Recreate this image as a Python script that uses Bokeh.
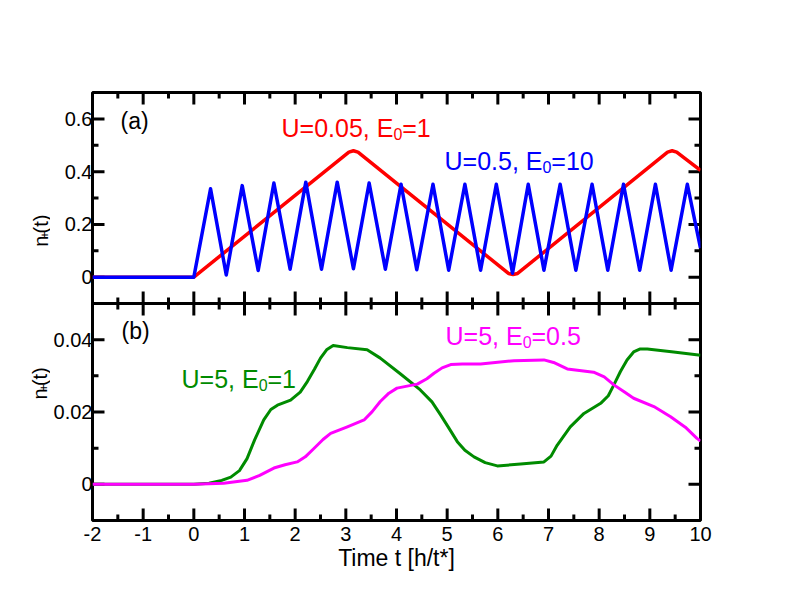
import math
from bokeh.plotting import figure
from bokeh.models import Range1d, FixedTicker, NumeralTickFormatter, Label, Span
from bokeh.layouts import row
from bokeh.core.properties import value
from bokeh.embed import file_html
from bokeh.resources import INLINE

FONT = "Liberation Sans"

# ---------------- data ----------------
# panel (a)
t_red = [-2, 0, 3.06, 3.15, 3.24, 6.21, 6.30, 6.39, 9.35, 9.44, 9.53, 10]
n_red = [0, 0, 0.474, 0.479, 0.474, 0.014, 0.010, 0.014, 0.474, 0.479, 0.474, 0.405]

t_blue = [-2, 0, 0.33, 0.64, 0.955, 1.27, 1.58, 1.90, 2.21, 2.52, 2.83, 3.15,
          3.46, 3.78, 4.09, 4.40, 4.72, 5.03, 5.35, 5.66, 5.97, 6.29, 6.60,
          6.91, 7.23, 7.54, 7.86, 8.17, 8.48, 8.80, 9.11, 9.42, 9.74, 10]
n_blue = [0, 0, 0.335, 0.008, 0.347, 0.025, 0.357, 0.030, 0.360, 0.030, 0.360, 0.032,
          0.357, 0.030, 0.352, 0.028, 0.352, 0.026, 0.352, 0.026, 0.352, 0.015, 0.352,
          0.026, 0.352, 0.026, 0.352, 0.026, 0.352, 0.026, 0.352, 0.026, 0.352, 0.11]

# panel (b)
t_green = [-2, 0, 0.3, 0.55, 0.73, 0.9, 1.05, 1.2, 1.38, 1.52, 1.65, 1.91, 2.1,
           2.24, 2.38, 2.5, 2.62, 2.75, 3.03, 3.42, 3.68, 4.08, 4.47, 4.7, 4.87,
           5.05, 5.2, 5.35, 5.53, 5.75, 5.99, 6.45, 6.91, 7.05, 7.17, 7.43, 7.7,
           8.03, 8.18, 8.29, 8.42, 8.55, 8.68, 8.8, 8.95, 9.47, 10]
n_green = [0, 0, 0.0003, 0.0011, 0.002, 0.0038, 0.0071, 0.0123, 0.0178, 0.0207,
           0.0219, 0.0233, 0.0255, 0.0284, 0.0318, 0.0349, 0.0372, 0.0384, 0.0378,
           0.0372, 0.0349, 0.0305, 0.0261, 0.0228, 0.0192, 0.0152, 0.0118, 0.0094,
           0.0076, 0.0060, 0.0051, 0.0056, 0.0062, 0.0078, 0.0108, 0.0159, 0.0196,
           0.0224, 0.0245, 0.0275, 0.0312, 0.0344, 0.0366, 0.0374, 0.0374, 0.0366,
           0.0357]

t_mag = [-2, 0, 0.59, 1.05, 1.3, 1.58, 1.8, 2.04, 2.2, 2.37, 2.55, 2.7, 3.03,
         3.36, 3.52, 3.68, 3.85, 4.01, 4.41, 4.6, 4.74, 4.9, 5.07, 5.3, 5.66,
         6.32, 6.91, 7.1, 7.37, 7.89, 8.1, 8.29, 8.5, 8.68, 9.08, 9.41, 9.7,
         9.93, 10]
n_mag = [0, 0, 0.0003, 0.0011, 0.0025, 0.0045, 0.0054, 0.0062, 0.0076, 0.0099,
         0.0124, 0.0141, 0.0159, 0.0178, 0.0201, 0.0229, 0.0252, 0.0266, 0.0277,
         0.0292, 0.0307, 0.0322, 0.0331, 0.0333, 0.0333, 0.0342, 0.0344, 0.0337,
         0.0319, 0.0310, 0.0297, 0.0275, 0.0255, 0.0238, 0.0215, 0.0187, 0.0158,
         0.0127, 0.0120]

X_RANGE = (-2, 10)
Y_RANGE_A = (-0.1, 0.7)     # panel (a)
Y_RANGE_B = (-0.01, 0.05)   # panel (b)
X_LABEL = "Time t [h/t*]"

# tick positions / labels
x_major = list(range(-2, 11))
x_minor = [k + 0.5 for k in range(-2, 10)]
ya_major = [0, 0.2, 0.4, 0.6]
ya_labels = ["0", "0.2", "0.4", "0.6"]
ya_minor = [0.1, 0.3, 0.5]
yb_major = [0, 0.02, 0.04]
yb_minor = [0.01, 0.03]

# ---------------- geometry (page pixels) ----------------
FL, FR = 92.0, 700.0
A_T, MID, B_B = 92.0, 303.0, 520.0
H_A, H_B = MID - A_T, B_B - MID
FH = B_B - A_T
BOTTOM = 80
TOTAL_H = int(A_T + FH + BOTTOM)
LBL_W = 50
MAJ, MIN = 12, 6  # tick lengths, px
TICK_W = 3

# main y range = panel (b) extended upward; panel (a) uses an extra range
# extended downward, so each panel occupies its own band of the frame
B0 = Y_RANGE_B[0]
B1 = B0 + (Y_RANGE_B[1] - Y_RANGE_B[0]) * FH / H_B
T1 = Y_RANGE_A[1]
T0 = T1 - (Y_RANGE_A[1] - Y_RANGE_A[0]) * FH / H_A


def tx(px):
    return X_RANGE[0] + (px - FL) * (X_RANGE[1] - X_RANGE[0]) / (FR - FL)


def ty(py):
    return B0 + (B_B - py) * (B1 - B0) / FH


def top_to_main(v):
    return B0 + (v - T0) * (B1 - B0) / (T1 - T0)


ADV = {"U": 722, "=": 584, "0": 556, "1": 556, "2": 556, "5": 556, ".": 278,
       ",": 278, " ": 278, "E": 667, "n": 556, "(": 333, ")": 333, "t": 278,
       "+": 584}


def width(s, size):
    return sum(ADV.get(c, 556) for c in s) / 1000.0 * size


p = figure(x_range=Range1d(*X_RANGE), y_range=Range1d(B0, B1),
           frame_width=int(FR - FL), frame_height=int(FH),
           min_border_left=int(FL - LBL_W), min_border_right=84,
           min_border_top=int(A_T), min_border_bottom=BOTTOM,
           output_backend="svg", toolbar_location=None)
p.extra_y_ranges = {"top": Range1d(T0, T1)}
p.xgrid.visible = False
p.ygrid.visible = False
p.outline_line_color = "black"
p.outline_line_width = 3


def lab(x, y, text, size, color):
    p.add_layout(Label(x=x, y=y, text=text, text_font=FONT,
                       text_font_size=f"{size}px", text_color=color,
                       text_align="left", text_baseline="alphabetic"))


def sub_text(px, py, pre, sub, post, color, size=25, ssize=16, drop=6):
    lab(tx(px), ty(py), pre, size, color)
    x2 = px + width(pre, size)
    lab(tx(x2), ty(py + drop), sub, ssize, color)
    x3 = x2 + width(sub, ssize)
    lab(tx(x3), ty(py), post, size, color)


def add_ticks(yr, hpx, ymaj, ymin, range_name):
    """Inward ticks on the four sides of one panel, traced as one comb line
    running round the panel's border."""
    lo, hi = yr
    x0, x1 = X_RANGE
    dxp = (x1 - x0) / (FR - FL)
    dyp = (hi - lo) / hpx
    tx_ = sorted([(v, MAJ) for v in x_major] + [(v, MIN) for v in x_minor])
    ty_ = sorted([(v, MAJ) for v in ymaj] + [(v, MIN) for v in ymin])
    xs, ys = [x0], [lo]
    for v, L in tx_:                      # bottom edge, left -> right
        xs += [v, v, v]
        ys += [lo, lo + L * dyp, lo]
    xs.append(x1)
    ys.append(lo)
    for v, L in ty_:                      # right edge, bottom -> top
        xs += [x1, x1 - L * dxp, x1]
        ys += [v, v, v]
    xs.append(x1)
    ys.append(hi)
    for v, L in reversed(tx_):            # top edge, right -> left
        xs += [v, v, v]
        ys += [hi, hi - L * dyp, hi]
    xs.append(x0)
    ys.append(hi)
    for v, L in reversed(ty_):            # left edge, top -> bottom
        xs += [x0, x0 + L * dxp, x0]
        ys += [v, v, v]
    xs.append(x0)
    ys.append(lo)
    kw = {} if range_name is None else {"y_range_name": range_name}
    p.line(xs, ys, line_color="black", line_width=TICK_W, line_join="bevel", **kw)


add_ticks(Y_RANGE_A, H_A, ya_major, ya_minor, "top")
add_ticks(Y_RANGE_B, H_B, yb_major, yb_minor, None)

# panel divider
p.add_layout(Span(location=Y_RANGE_B[1], dimension="width",
                  line_color="black", line_width=3))

# curves
p.line(t_red, n_red, line_color="#ff0000", line_width=3.5, line_join="round",
       y_range_name="top")
p.line(t_blue, n_blue, line_color="#0000ff", line_width=3.5, line_join="round",
       y_range_name="top")
p.line(t_green, n_green, line_color="#008b00", line_width=3, line_join="round")
p.line(t_mag, n_mag, line_color="#ff00ff", line_width=3, line_join="round")

# axes: the left one carries the tick labels of both panels
pos_a = [top_to_main(v) for v in ya_major]
overrides = {}
for v, s in zip(pos_a, ya_labels):
    overrides[v] = s
    overrides[repr(v)] = s
yax = p.yaxis[0]
yax.ticker = FixedTicker(ticks=yb_major + pos_a)
yax.formatter = NumeralTickFormatter(format="0.[00]")
yax.major_label_overrides = overrides
xax = p.xaxis[0]
xax.ticker = FixedTicker(ticks=x_major)
xax.formatter = NumeralTickFormatter(format="0")
xax.axis_label = X_LABEL
for ax in (xax, yax):
    ax.axis_line_color = None
    ax.major_tick_in = 0
    ax.major_tick_out = 0
    ax.minor_tick_in = 0
    ax.minor_tick_out = 0
    ax.major_tick_line_color = None
    ax.minor_tick_line_color = None
    ax.major_label_text_font = FONT
    ax.major_label_text_font_size = "20px"
    ax.major_label_text_color = "black"
    ax.axis_label_text_font = FONT
    ax.axis_label_text_font_style = "normal"
    ax.axis_label_text_color = "black"
yax.major_label_standoff = 0
xax.major_label_standoff = 6
xax.axis_label_text_font_size = "23px"
xax.axis_label_standoff = 1

# panel texts
lab(tx(120), ty(120), "(a)", 23, "black")
sub_text(281, 127, "U=0.05, E", "0", "=1", "#ff0000")
sub_text(444, 160.5, "U=0.5, E", "0", "=10", "#0000ff")
lab(tx(121), ty(330), "(b)", 23, "black")
sub_text(181, 378, "U=5, E", "0", "=1", "#008b00")
sub_text(445, 335.5, "U=5, E", "0", "=0.5", "#ff00ff")

# ---------------- y titles n_+(t) in a narrow strip on the left ----------------
pl = figure(width=LBL_W, height=TOTAL_H, x_range=Range1d(0, LBL_W),
            y_range=Range1d(0, TOTAL_H), min_border=0,
            output_backend="svg", toolbar_location=None,
            x_axis_location=None, y_axis_location=None)
pl.xgrid.visible = False
pl.ygrid.visible = False
pl.outline_line_color = None


def ylabel(bx, cy, size=20, ssize=13, drop=4):
    total = width("n", size) + width("+", ssize) + width("(t)", size)
    y0 = cy + total / 2
    y1 = y0 - width("n", size)
    y2 = y1 - width("+", ssize)
    common = dict(angle=math.pi / 2, text_font=value(FONT), text_color="black",
                  text_align="left", text_baseline="alphabetic")
    pl.text(x=[bx], y=[TOTAL_H - y0], text=["n"],
            text_font_size=value(f"{size}px"), **common)
    pl.text(x=[bx + drop], y=[TOTAL_H - y1], text=["+"],
            text_font_size=value(f"{ssize}px"), **common)
    pl.text(x=[bx], y=[TOTAL_H - y2], text=["(t)"],
            text_font_size=value(f"{size}px"), **common)


ylabel(40, (A_T + MID) / 2)
ylabel(39, (MID + B_B) / 2)

layout = row(pl, p, spacing=0)

open("out.html", "w").write(file_html(layout, INLINE))
